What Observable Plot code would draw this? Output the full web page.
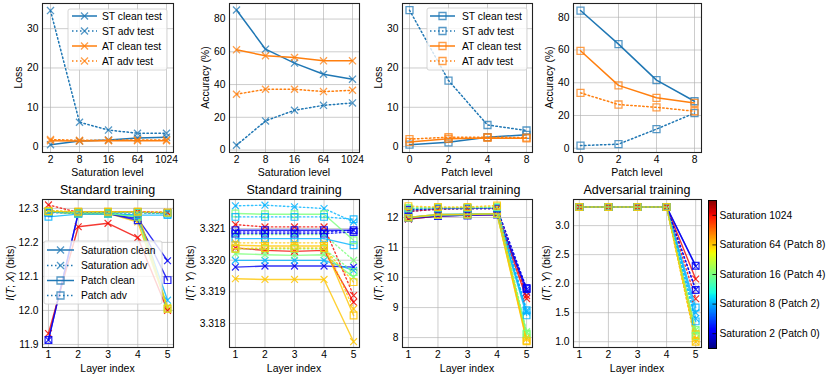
<!DOCTYPE html>
<html><head><meta charset="utf-8">
<script src="https://cdn.jsdelivr.net/npm/d3@7"></script>
<script src="https://cdn.jsdelivr.net/npm/@observablehq/plot@0.6"></script>
<style>
body{margin:0;background:#fff;}
#chart{position:relative;width:830px;height:378px;overflow:hidden;background:#fff;}
</style></head><body><div id="chart"></div>
<script>
// ---------------- data ----------------
const saturationLevels = ["2","8","16","64","1024"];
const patchLevels = ["0","2","4","8"];
const layers = [1,2,3,4,5];

const satLoss_STclean = [0.5,1.4,1.7,2.2,2.4];
const satLoss_STadv   = [34.6,6.2,4.2,3.4,3.4];
const satLoss_ATclean = [1.5,1.4,1.5,1.5,1.5];
const satLoss_ATadv   = [1.8,1.6,1.6,1.7,1.7];

const satAcc_STclean = [85.5,61.6,53.1,46.3,43.3];
const satAcc_STadv   = [2.9,17.8,24.3,27.3,28.8];
const satAcc_ATclean = [61.2,57.6,56.5,54.5,54.5];
const satAcc_ATadv   = [34.1,37.1,37.1,35.7,36.5];

const patchLoss_STclean = [0.5,1.1,2.4,3.0];
const patchLoss_STadv   = [34.7,16.8,5.5,4.1];
const patchLoss_ATclean = [1.2,2.0,2.2,2.1];
const patchLoss_ATadv   = [1.9,2.4,2.4,2.3];

const patchAcc_STclean = [84.1,63.6,41.6,28.7];
const patchAcc_STadv   = [1.6,2.5,11.7,21.5];
const patchAcc_ATclean = [59.5,38.4,30.8,27.7];
const patchAcc_ATadv   = [33.8,26.7,25.0,22.6];

// colour positions on the colour bar (jet)
const satColorPos = [0.1,0.3,0.5,0.7,0.9];
const patchColorPos = [0.1,0.3,0.5,0.7];
const colorbarTicks = [0.1,0.3,0.5,0.7,0.9];
const colorbarLabels = ["Saturation 2 (Patch 0)","Saturation 8 (Patch 2)","Saturation 16 (Patch 4)","Saturation 64 (Patch 8)","Saturation 1024"];

// Standard training, I(T;X)
const stdITX_satClean = [
 [11.913,12.285,12.285,12.270,12.146],
 [12.290,12.285,12.285,12.280,12.030],
 [12.290,12.285,12.285,12.275,12.010],
 [12.290,12.285,12.285,12.260,12.008],
 [11.932,12.246,12.256,12.214,12.000]];
const stdITX_satAdv = [
 [12.290,12.288,12.288,12.288,12.286],
 [12.292,12.288,12.288,12.288,12.286],
 [12.292,12.288,12.288,12.288,12.286],
 [12.294,12.290,12.290,12.290,12.288],
 [12.310,12.288,12.290,12.290,12.288]];
const stdITX_patchClean = [
 [11.913,12.285,12.285,12.265,12.089],
 [12.275,12.283,12.283,12.280,12.280],
 [12.290,12.285,12.285,12.275,12.005],
 [12.290,12.290,12.290,12.290,12.005]];
const stdITX_patchAdv = [
 [12.288,12.288,12.288,12.288,12.286],
 [12.288,12.288,12.288,12.288,12.284],
 [12.290,12.288,12.288,12.288,12.286],
 [12.292,12.290,12.290,12.290,12.288]];

// Standard training, I(T;Y)
const stdITY_satClean = [
 [3.319783,3.319815,3.319815,3.319815,3.319783],
 [3.319995,3.319995,3.319995,3.319995,3.319677],
 [3.320206,3.320175,3.320153,3.320175,3.319466],
 [3.319413,3.319392,3.319392,3.319392,3.317423],
 [3.320386,3.320312,3.320280,3.320312,3.318672]];
const stdITY_satAdv = [
 [3.320894,3.320894,3.320894,3.320894,3.320947],
 [3.321720,3.321741,3.321688,3.321635,3.321212],
 [3.320810,3.320810,3.320810,3.320810,3.319995],
 [3.320550,3.320550,3.320550,3.320550,3.318460],
 [3.321127,3.321053,3.321053,3.321053,3.318884]];
const stdITY_patchClean = [
 [3.320947,3.320947,3.320947,3.320947,3.320947],
 [3.320683,3.320683,3.320683,3.320683,3.320471],
 [3.321476,3.321455,3.321455,3.321455,3.320630],
 [3.320471,3.320450,3.320450,3.320450,3.318249]];
const stdITY_patchAdv = [
 [3.320841,3.320841,3.320841,3.320841,3.320894],
 [3.321370,3.321370,3.321370,3.321370,3.321296],
 [3.320365,3.320365,3.320365,3.320365,3.319624],
 [3.320365,3.320386,3.320386,3.320386,3.319307]];

// Adversarial training, I(T;X)
const advITX_satClean = [
 [11.95,12.05,12.08,12.10,9.52],
 [12.00,12.10,12.12,12.12,8.85],
 [12.00,12.10,12.10,12.12,8.15],
 [12.00,12.08,12.10,12.12,7.95],
 [11.95,12.05,12.08,12.10,9.30]];
const advITX_satAdv = [
 [12.20,12.28,12.30,12.30,9.60],
 [12.25,12.30,12.30,12.32,8.90],
 [12.25,12.30,12.30,12.32,8.20],
 [12.30,12.33,12.33,12.35,8.00],
 [12.20,12.28,12.30,12.30,9.40]];
const advITX_patchClean = [
 [11.98,12.05,12.07,12.10,9.62],
 [12.00,12.08,12.10,12.12,8.74],
 [12.00,12.08,12.10,12.12,8.10],
 [12.00,12.10,12.10,12.13,7.88]];
const advITX_patchAdv = [
 [12.25,12.30,12.30,12.30,9.65],
 [12.30,12.32,12.32,12.33,8.91],
 [12.32,12.33,12.33,12.35,8.13],
 [12.38,12.35,12.35,12.40,7.90]];

// Adversarial training, I(T;Y)
const advITY_satClean = [
 [3.3219,3.3219,3.3219,3.3219,2.30],
 [3.3219,3.3219,3.3219,3.3219,1.50],
 [3.3219,3.3219,3.3219,3.3219,1.20],
 [3.3219,3.3219,3.3219,3.3219,1.05],
 [3.3219,3.3219,3.3219,3.3219,2.08]];
const advITY_satAdv = [
 [3.3219,3.3219,3.3219,3.3219,1.90],
 [3.3219,3.3219,3.3219,3.3219,1.40],
 [3.3219,3.3219,3.3219,3.3219,1.15],
 [3.3219,3.3219,3.3219,3.3219,1.00],
 [3.3219,3.3219,3.3219,3.3219,1.74]];
const advITY_patchClean = [
 [3.3219,3.3219,3.3219,3.3219,2.31],
 [3.3219,3.3219,3.3219,3.3219,1.59],
 [3.3219,3.3219,3.3219,3.3219,1.20],
 [3.3219,3.3219,3.3219,3.3219,1.13]];
const advITY_patchAdv = [
 [3.3219,3.3219,3.3219,3.3219,1.89],
 [3.3219,3.3219,3.3219,3.3219,1.35],
 [3.3219,3.3219,3.3219,3.3219,1.10],
 [3.3219,3.3219,3.3219,3.3219,1.00]];

// ---------------- layout / style ----------------
const W = 830, H = 378;
const FONT = '"Liberation Sans", Arial, Helvetica, sans-serif';
const BLUE = "#1f77b4", ORANGE = "#ff7f0e";
const GRID = "#b0b0b0";
const DOT = "1.5,2.5";
const cols = [[42,173],[229,359],[402,532],[573,701]];
const rows = [[3,152],[199,347]];
const M = {l:40, r:8, t:6, b:26};
const chart = document.getElementById("chart");

function jet(t) {
  const seg = (pts) => {
    for (let i = 1; i < pts.length; i++) {
      if (t <= pts[i][0]) {
        const [x0,y0] = pts[i-1], [x1,y1] = pts[i];
        return y0 + (y1 - y0) * (t - x0) / (x1 - x0);
      }
    }
    return pts[pts.length-1][1];
  };
  const r = seg([[0,0],[0.35,0],[0.66,1],[0.89,1],[1,0.5]]);
  const g = seg([[0,0],[0.125,0],[0.375,1],[0.64,1],[0.91,0],[1,0]]);
  const b = seg([[0,0.5],[0.11,1],[0.34,1],[0.65,0],[1,0]]);
  return `rgb(${Math.round(r*255)},${Math.round(g*255)},${Math.round(b*255)})`;
}

function mount(svg, left, top) {
  svg.style.position = "absolute";
  svg.style.left = left + "px";
  svg.style.top = top + "px";
  chart.appendChild(svg);
}

function panel(col, row, x, xFormat, y, yTicks, yFormat, dataMarks, extra = {}) {
  const [fl, fr] = cols[col], [ft, fb] = rows[row];
  const xt = x.ticks ? {ticks: x.ticks} : {};
  const svg = Plot.plot({
    width: M.l + (fr - fl) + M.r,
    height: M.t + (fb - ft) + M.b,
    marginLeft: M.l, marginRight: M.r, marginTop: M.t, marginBottom: M.b,
    style: {background: "none", overflow: "visible", fontFamily: FONT, fontSize: "10.3px", color: "#000"},
    x, y, ...extra,
    marks: [
      Plot.gridX({stroke: GRID, strokeOpacity: 0.8, strokeWidth: 0.8, ...xt}),
      Plot.gridY({ticks: yTicks, stroke: GRID, strokeOpacity: 0.8, strokeWidth: 0.8}),
      ...dataMarks,
      Plot.frame({stroke: "#222", strokeWidth: 1.1}),
      Plot.axisX({tickSize: 0, tickPadding: 3, label: null, tickFormat: xFormat, ...xt}),
      Plot.axisY({ticks: yTicks, tickFormat: yFormat, tickSize: 0, tickPadding: 4, label: null})
    ]
  });
  mount(svg, fl - M.l, ft - M.t);
}

// ---------------- top row ----------------
function topMarks(levels, series, symbol) {
  const marks = [];
  const r = symbol === "times" ? 3.3 : 3.95;
  for (const [values, color, dashed] of series) {
    const data = levels.map((l, i) => ({level: l, value: values[i]}));
    marks.push(Plot.line(data, {x: "level", y: "value", stroke: color, strokeWidth: 1.5,
      strokeDasharray: dashed ? DOT : undefined}));
    marks.push(Plot.dot(data, {x: "level", y: "value", symbol, r, stroke: color, strokeOpacity: 0.75,
      strokeWidth: 1.3, fill: "none"}));
  }
  return marks;
}
const ident = d => d;

panel(0, 0, {type: "point", domain: saturationLevels, padding: 0.2}, ident, {domain: [-1.5, 36.4]}, [0,10,20,30], d3.format("d"),
  topMarks(saturationLevels, [[satLoss_STclean, BLUE, false], [satLoss_STadv, BLUE, true], [satLoss_ATclean, ORANGE, false], [satLoss_ATadv, ORANGE, true]], "times"));
panel(1, 0, {type: "point", domain: saturationLevels, padding: 0.2}, ident, {domain: [-1.5, 89.5]}, [0,20,40,60,80], d3.format("d"),
  topMarks(saturationLevels, [[satAcc_STclean, BLUE, false], [satAcc_STadv, BLUE, true], [satAcc_ATclean, ORANGE, false], [satAcc_ATadv, ORANGE, true]], "times"));
panel(2, 0, {type: "point", domain: patchLevels, padding: 0.15}, ident, {domain: [-1.5, 36.4]}, [0,10,20,30], d3.format("d"),
  topMarks(patchLevels, [[patchLoss_STclean, BLUE, false], [patchLoss_STadv, BLUE, true], [patchLoss_ATclean, ORANGE, false], [patchLoss_ATadv, ORANGE, true]], "square"));
panel(3, 0, {type: "point", domain: patchLevels, padding: 0.15}, ident, {domain: [-2.6, 88.4]}, [0,20,40,60,80], d3.format("d"),
  topMarks(patchLevels, [[patchAcc_STclean, BLUE, false], [patchAcc_STadv, BLUE, true], [patchAcc_ATclean, ORANGE, false], [patchAcc_ATadv, ORANGE, true]], "square"));

// ---------------- bottom row ----------------
function bottomMarks(satClean, satAdv, patchClean, patchAdv) {
  const groups = [
    {arr: satClean, pos: satColorPos, dashed: false, symbol: "times", name: "sc"},
    {arr: satAdv, pos: satColorPos, dashed: true, symbol: "times", name: "sa"},
    {arr: patchClean, pos: patchColorPos, dashed: false, symbol: "square", name: "pc"},
    {arr: patchAdv, pos: patchColorPos, dashed: true, symbol: "square", name: "pa"}
  ];
  const marks = [];
  for (const g of groups) {
    const data = [];
    g.arr.forEach((vals, i) => vals.forEach((v, j) => data.push({layer: layers[j], value: v, c: g.pos[i], key: g.name + i})));
    marks.push(Plot.line(data, {x: "layer", y: "value", z: "key", stroke: "c", strokeWidth: 1.4, strokeOpacity: 0.8,
      strokeDasharray: g.dashed ? DOT : undefined}));
    marks.push(Plot.dot(data, {x: "layer", y: "value", stroke: "c", symbol: g.symbol, r: g.symbol === "times" ? 3.2 : 3.8,
      strokeWidth: 1.2, strokeOpacity: 0.85, fill: "none"}));
  }
  return marks;
}
const colorOpt = {color: {type: "linear", domain: [0, 1], interpolate: jet}};
const layerX = {type: "linear", domain: [0.8, 5.2], ticks: layers};
const intFmt = d3.format("d");

panel(0, 1, layerX, intFmt, {domain: [11.891, 12.326]}, [11.9,12.0,12.1,12.2,12.3], d3.format(".1f"),
  bottomMarks(stdITX_satClean, stdITX_satAdv, stdITX_patchClean, stdITX_patchAdv), colorOpt);
panel(1, 1, layerX, intFmt, {domain: [3.31724, 3.32192]}, [3.318,3.319,3.320,3.321], d3.format(".3f"),
  bottomMarks(stdITY_satClean, stdITY_satAdv, stdITY_patchClean, stdITY_patchAdv), colorOpt);
panel(2, 1, layerX, intFmt, {domain: [7.67, 12.6]}, [8,9,10,11,12], d3.format("d"),
  bottomMarks(advITX_satClean, advITX_satAdv, advITX_patchClean, advITX_patchAdv), colorOpt);
panel(3, 1, layerX, intFmt, {domain: [0.9, 3.45]}, [1.0,1.5,2.0,2.5,3.0], d3.format(".1f"),
  bottomMarks(advITY_satClean, advITY_satAdv, advITY_patchClean, advITY_patchAdv), colorOpt);

// ---------------- colour bar ----------------
const cbarSteps = d3.range(0, 256).map(i => i / 256);
const cbar = Plot.plot({
  width: 8 + 130, height: 148,
  marginLeft: 0, marginRight: 130, marginTop: 0, marginBottom: 0,
  style: {background: "none", overflow: "visible", fontFamily: FONT, fontSize: "10.3px", color: "#000"},
  x: {domain: [0, 1], axis: null},
  y: {domain: [0, 1]},
  color: {type: "linear", domain: [0, 1], interpolate: jet},
  marks: [
    Plot.rect(cbarSteps, {x1: 0, x2: 1, y1: d => d, y2: d => d + 1 / 256 + 0.002, fill: d => d + 0.5 / 256, shapeRendering: "crispEdges"}),
    Plot.ruleY(colorbarTicks, {x1: 0.55, x2: 1, stroke: "#000", strokeWidth: 0.8}),
    Plot.frame({stroke: "#000", strokeWidth: 1}),
    Plot.axisY({anchor: "right", ticks: colorbarTicks, tickFormat: d => colorbarLabels[colorbarTicks.indexOf(d)], tickSize: 0, tickPadding: 3, label: null})
  ]
});
mount(cbar, 708, 200);

// ---------------- overlay: labels, titles, legends ----------------
const ov = d3.create("svg").attr("width", W).attr("height", H)
  .style("position", "absolute").style("left", "0px").style("top", "0px")
  .style("font-family", FONT).style("overflow", "visible");

function ylabel(x, yc, parts) {
  const t = ov.append("text").attr("transform", `translate(${x},${yc}) rotate(-90)`)
    .attr("text-anchor", "middle").attr("dominant-baseline", "central").attr("font-size", 10.5).attr("fill", "#000");
  for (const [s, it] of parts) t.append("tspan").text(s).attr("font-style", it ? "italic" : "normal");
}
function label(x, y, s, size = 10.5) {
  ov.append("text").attr("x", x).attr("y", y).attr("text-anchor", "middle").attr("dominant-baseline", "central")
    .attr("font-size", size).attr("fill", "#000").text(s);
}
const cx = c => (cols[c][0] + cols[c][1]) / 2;
const rowMid = r => (rows[r][0] + rows[r][1]) / 2;

ylabel(18, rowMid(0), [["Loss", false]]);
ylabel(205, rowMid(0), [["Accuracy (%)", false]]);
ylabel(378, rowMid(0), [["Loss", false]]);
ylabel(549, rowMid(0), [["Accuracy (%)", false]]);
const itx = [["I", true], ["(", false], ["T", true], ["; ", false], ["X", true], [") (bits)", false]];
const ity = [["I", true], ["(", false], ["T", true], ["; ", false], ["Y", true], [") (bits)", false]];
ylabel(10, rowMid(1), itx);
ylabel(190, rowMid(1), ity);
ylabel(378, rowMid(1), itx);
ylabel(546, rowMid(1), ity);

label(cx(0), 171.5, "Saturation level");
label(cx(1), 171.5, "Saturation level");
label(cx(2), 171.5, "Patch level");
label(cx(3), 171.5, "Patch level");
for (let c = 0; c < 4; c++) label(cx(c), 368, "Layer index");
label(cx(0), 190, "Standard training", 12.5);
label(cx(1), 190, "Standard training", 12.5);
label(cx(2), 190, "Adversarial training", 12.5);
label(cx(3), 190, "Adversarial training", 12.5);

function legend(box, rowY, x0, x1, tx, items) {
  const g = ov.append("g");
  g.append("rect").attr("x", box[0]).attr("y", box[1]).attr("width", box[2] - box[0]).attr("height", box[3] - box[1])
    .attr("rx", 2).attr("fill", "#fff").attr("fill-opacity", 0.8).attr("stroke", "#cccccc").attr("stroke-width", 0.8);
  items.forEach((it, i) => {
    const y = rowY[i];
    g.append("line").attr("x1", x0).attr("x2", x1).attr("y1", y).attr("y2", y)
      .attr("stroke", it.color).attr("stroke-width", 1.5).attr("stroke-dasharray", it.dashed ? DOT : null);
    const sym = it.symbol === "times" ? d3.symbolTimes : d3.symbolSquare;
    const size = it.symbol === "times" ? Math.PI * 3.3 * 3.3 : Math.PI * 3.95 * 3.95;
    g.append("path").attr("d", d3.symbol(sym, size)()).attr("transform", `translate(${(x0 + x1) / 2},${y})`)
      .attr("fill", "none").attr("stroke", it.color).attr("stroke-opacity", 0.75).attr("stroke-width", 1.3);
    g.append("text").attr("x", tx).attr("y", y).attr("dominant-baseline", "central").attr("font-size", 10.3)
      .attr("fill", "#000").text(it.label);
  });
}
const topItems = sym => [
  {label: "ST clean test", color: BLUE, dashed: false, symbol: sym},
  {label: "ST adv test", color: BLUE, dashed: true, symbol: sym},
  {label: "AT clean test", color: ORANGE, dashed: false, symbol: sym},
  {label: "AT adv test", color: ORANGE, dashed: true, symbol: sym}
];
legend([68, 9, 167, 70], [16, 31, 46, 61], 72, 97, 102, topItems("times"));
legend([427, 8, 527, 70], [16, 31, 46, 61], 430, 455, 462, topItems("square"));
legend([44, 241, 162, 304], [250, 265.5, 280.5, 295.5], 47, 74, 81, [
  {label: "Saturation clean", color: BLUE, dashed: false, symbol: "times"},
  {label: "Saturation adv", color: BLUE, dashed: true, symbol: "times"},
  {label: "Patch clean", color: BLUE, dashed: false, symbol: "square"},
  {label: "Patch adv", color: BLUE, dashed: true, symbol: "square"}
]);

chart.appendChild(ov.node());
</script></body></html>
